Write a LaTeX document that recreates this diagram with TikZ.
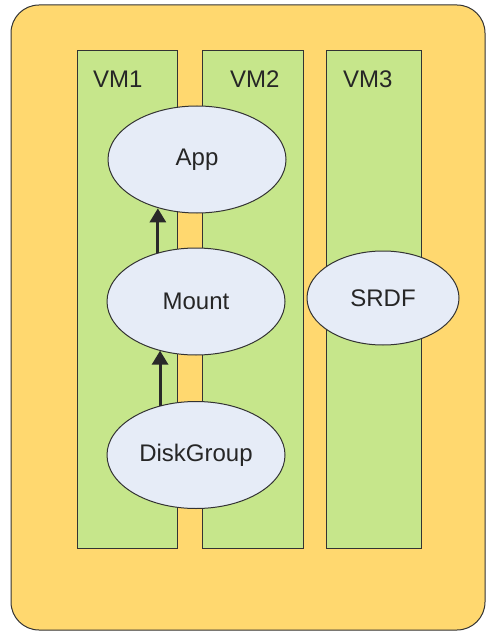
\documentclass[tikz,border=0pt]{standalone}
\usepackage{fontspec}
\setmainfont{Liberation Sans}
\usetikzlibrary{shapes.geometric,arrows.meta,positioning}

\definecolor{hostfill}{HTML}{FFD86F}
\definecolor{vmfill}{HTML}{C6E68B}
\definecolor{resfill}{HTML}{E6ECF7}
\definecolor{edgegray}{HTML}{333333}

\begin{document}
\begin{tikzpicture}[x=1pt, y=-1pt,
	font=\fontsize{24}{28}\selectfont,
	host/.style = {draw = edgegray, fill = hostfill, line width = 1pt, rounded corners = 28pt},
	vmbox/.style = {draw = edgegray, fill = vmfill, line width = 1pt, inner sep = 0pt, minimum height = 497pt},
	vmlabel/.style = {anchor = base west, inner sep = 0pt, text = black!85},
	res/.style = {ellipse, draw = edgegray, fill = resfill, line width = 1pt, inner sep = 0pt,
		minimum width = 178pt, minimum height = 107pt, text = black!85},
	dep/.style = {draw = edgegray!80!black, line width = 3pt, -{Triangle[width = 16pt, length = 14pt]}}]

	\useasboundingbox (0, 0) rectangle (486, 631);

	% host
	\draw [host] (11, 5) rectangle (485, 630);

	% virtual machines
	\node [vmbox, minimum width = 100pt] (vm1) at (127, 299.5) {};
	\node [vmbox, minimum width = 101pt] (vm2) at (252.5, 299.5) {};
	\node [vmbox, minimum width = 95pt] (vm3) at (373.5, 299.5) {};

	\node [vmlabel] (vm1l) at (93, 88) {VM1};
	\node [vmlabel] (vm2l) at (230, 88) {VM2};
	\node [vmlabel] (vm3l) at (343, 88) {VM3};

	% resources
	\node [res] (app) at (197, 159.5) {App};
	\node [res] (mount) at (196, 301.5) {Mount};
	\node [res] (disk) at (196, 455) {DiskGroup};
	\node [res, minimum width = 152pt, minimum height = 94pt] (srdf) at (383, 298) {SRDF};

	% dependencies
	\draw [dep] (mount.128) -- (mount.128 |- app.232);
	\draw [dep] (disk.126) -- (disk.126 |- mount.233);
\end{tikzpicture}
\end{document}
